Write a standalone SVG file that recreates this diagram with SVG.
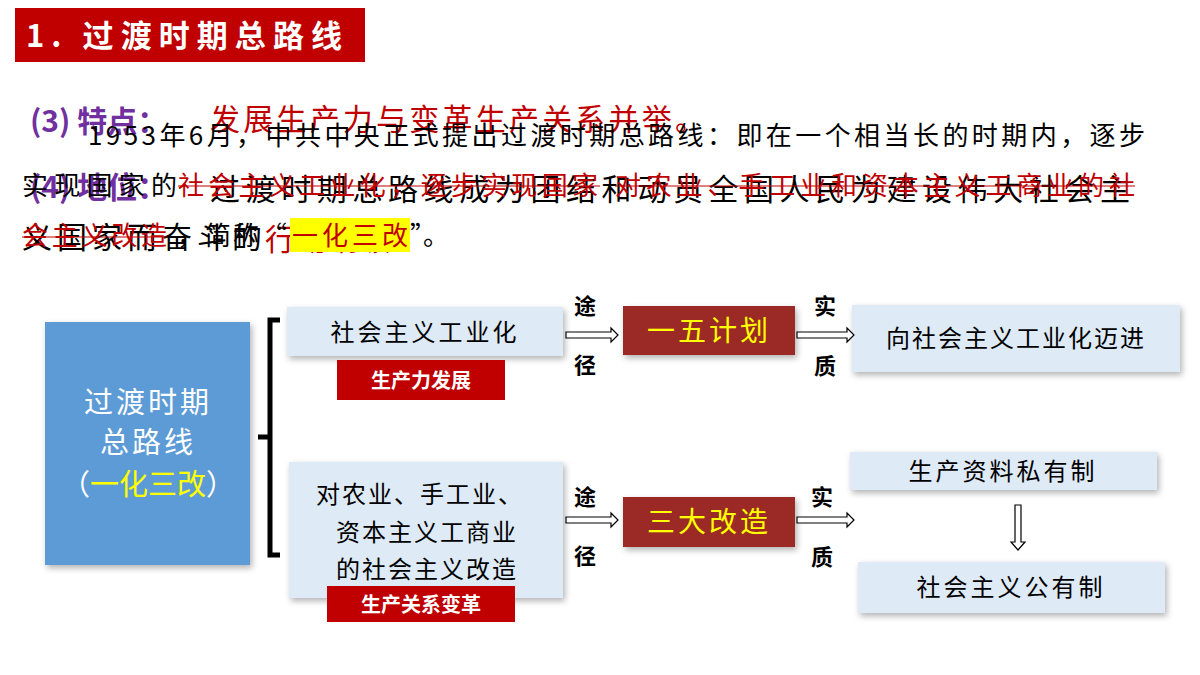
<svg xmlns="http://www.w3.org/2000/svg" width="1200" height="675" viewBox="0 0 1200 675">
<style>
text{font-family:"Noto Sans CJK SC","Liberation Sans",sans-serif}
.blk{font-size:26px;fill:#000}
.red{fill:#c00000}
.pur{fill:#7030a0;font-weight:bold;font-size:30px}
.lb{fill:#deeaf6}
.nt{font-size:24px;fill:#000;text-anchor:middle}
.lab{font-size:22px;font-weight:bold;fill:#000;text-anchor:middle}
.tag{fill:#c00000}
.tagt{font-size:20px;font-weight:bold;fill:#fff;text-anchor:middle}
.dk{fill:#9b2a26}
.yt{font-size:28px;fill:#ffff00;text-anchor:middle}
.arr{fill:#fff;stroke:#000;stroke-width:1.2}
</style>
<defs><filter id="sh" x="-10%" y="-10%" width="130%" height="140%"><feDropShadow dx="2" dy="3" stdDeviation="3" flood-opacity="0.3"/></filter></defs>
<rect width="1200" height="675" fill="#fff"/>
<g id="title"><rect x="15" y="8" width="350" height="54" fill="#c00000"/><text x="26" y="47" font-size="31" font-weight="bold" fill="#fff" textLength="316" lengthAdjust="spacing">1. 过渡时期总路线</text></g>
<g id="layerC">
<text x="30" y="132" class="pur">(3) 特点：</text>
<text x="210" y="130" font-size="30" class="red" textLength="495" lengthAdjust="spacing">发展生产力与变革生产关系并举。</text>
</g>
<g id="layerB">
<text x="30" y="198" class="pur">(4) 地位：</text>
<text x="210" y="200" font-size="30" fill="#000" textLength="920" lengthAdjust="spacing">过渡时期总路线成为团结和动员全国人民为建设伟大社会主</text>
<text x="22" y="248" font-size="30" fill="#000" textLength="240" lengthAdjust="spacing">义国家而奋斗的</text>
<text x="265" y="250" font-size="30" class="red" textLength="125" lengthAdjust="spacing">行动纲领</text>
</g>
<g id="layerA">
<text x="88" y="145" class="blk" textLength="1057" lengthAdjust="spacing">1953年6月，中共中央正式提出过渡时期总路线：即在一个相当长的时期内，逐步</text>
<text x="22" y="195" class="blk" textLength="155" lengthAdjust="spacing">实现国家的</text>
<text x="178" y="195" class="blk red" textLength="420" lengthAdjust="spacing">社会主义工业化，逐步实现国家</text>
<text x="615" y="195" class="blk red" textLength="520" lengthAdjust="spacing">对农业、手工业和资本主义工商业的社</text>
<line x1="178" y1="186" x2="600" y2="186" stroke="#c00000" stroke-width="1.2"/>
<line x1="615" y1="186" x2="1135" y2="186" stroke="#c00000" stroke-width="1.2"/>
<text x="22" y="245" class="blk red" textLength="145" lengthAdjust="spacing">会主义改造</text>
<line x1="22" y1="237" x2="167" y2="237" stroke="#c00000" stroke-width="1.2"/>
<text x="177" y="245" class="blk" textLength="110" lengthAdjust="spacing">，简称“</text>
<rect x="290" y="218" width="120" height="34" fill="#ffff00"/>
<text x="292" y="245" class="blk red" textLength="116" lengthAdjust="spacing">一化三改</text>
<text x="410" y="245" class="blk">”。</text>
</g>
<g id="main"><rect x="45" y="322" width="205" height="243" fill="#5b9bd5" filter="url(#sh)"/>
<text x="148" y="413" font-size="29" fill="#fff" text-anchor="middle" letter-spacing="3">过渡时期</text>
<text x="148" y="453" font-size="29" fill="#fff" text-anchor="middle" letter-spacing="3">总路线</text>
<text x="148" y="495" font-size="29" fill="#fff" text-anchor="middle"><tspan>（</tspan><tspan fill="#ffff00">一化三改</tspan><tspan>）</tspan></text></g>
<g id="brace"><path d="M280,320 H270 V555 H280 M270,437 H258" fill="none" stroke="#000" stroke-width="5"/></g>
<g id="n1"><rect x="287" y="307" width="276" height="49" class="lb" filter="url(#sh)"/><text x="425" y="341" class="nt" letter-spacing="3">社会主义工业化</text></g>
<g id="t1"><rect x="337" y="360" width="168" height="40" class="tag"/><text x="421" y="388" class="tagt">生产力发展</text></g>
<g id="n2"><rect x="289" y="462" width="274" height="136" class="lb" filter="url(#sh)"/>
<text x="420" y="503" class="nt" letter-spacing="2">对农业、手工业、</text>
<text x="427" y="541" class="nt" letter-spacing="2">资本主义工商业</text>
<text x="427" y="578" class="nt" letter-spacing="2">的社会主义改造</text></g>
<g id="t2"><rect x="327" y="586" width="188" height="36" class="tag"/><text x="421" y="612" class="tagt">生产关系变革</text></g>
<g id="n3"><rect x="623" y="306" width="172" height="49" class="dk" filter="url(#sh)"/><text x="709" y="341" class="yt" letter-spacing="3">一五计划</text></g>
<g id="n4"><rect x="623" y="497" width="172" height="50" class="dk" filter="url(#sh)"/><text x="709" y="532" class="yt" letter-spacing="3">三大改造</text></g>
<g id="n5"><rect x="852" y="305" width="328" height="67" class="lb" filter="url(#sh)"/><text x="1016" y="347" class="nt" letter-spacing="2">向社会主义工业化迈进</text></g>
<g id="n6"><rect x="850" y="452" width="307" height="38" class="lb" filter="url(#sh)"/><text x="1003" y="480" class="nt" letter-spacing="3">生产资料私有制</text></g>
<g id="n7"><rect x="858" y="562" width="307" height="51" class="lb" filter="url(#sh)"/><text x="1011" y="596" class="nt" letter-spacing="3">社会主义公有制</text></g>
<g id="connectors">
<path class="arr" d="M566,332 H611 V328 L618,335 L611,342 V338 H566 Z"/>
<path class="arr" d="M566,517 H611 V513 L618,520 L611,527 V523 H566 Z"/>
<path class="arr" d="M797,332 H847 V328 L854,335 L847,342 V338 H797 Z"/>
<path class="arr" d="M797,517 H847 V513 L854,520 L847,527 V523 H797 Z"/>
<path class="arr" d="M1015,505 V542 H1011 L1018,550 L1025,542 H1021 V505 Z"/>
<text x="585" y="314" class="lab">途</text><text x="585" y="373" class="lab">径</text>
<text x="585" y="505" class="lab">途</text><text x="585" y="564" class="lab">径</text>
<text x="825" y="314" class="lab">实</text><text x="825" y="374" class="lab">质</text>
<text x="822" y="505" class="lab">实</text><text x="822" y="565" class="lab">质</text>
</g>
</svg>
